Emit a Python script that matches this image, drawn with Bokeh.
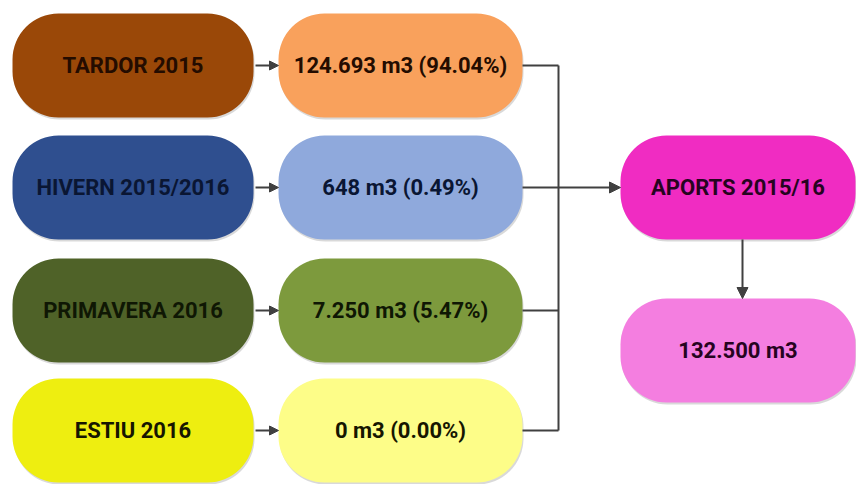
from bokeh.plotting import figure
from bokeh.models import Range1d, Arrow, NormalHead, ColumnDataSource
from bokeh.core.properties import value
from bokeh.embed import file_html
from bokeh.resources import INLINE

# ---- data ----
seasons = ["TARDOR 2015", "HIVERN 2015/2016", "PRIMAVERA 2016", "ESTIU 2016"]
volumes_m3 = [124693, 648, 7250, 0]
percentages = [94.04, 0.49, 5.47, 0.00]
total_label = "APORTS 2015/16"
total_m3 = 132500

def fmt_m3(v):
    return f"{v:,}".replace(",", ".") + " m3"

value_labels = [f"{fmt_m3(v)} ({p:.2f}%)" for v, p in zip(volumes_m3, percentages)]

# ---- style / layout ----
season_colors = ["#9a4808", "#2f4f8f", "#4f6228", "#eeee10"]
value_colors = ["#f9a15c", "#8fa9dc", "#7d9a3d", "#fdfd88"]
text_colors = ["#240c00", "#0a1633", "#0f1704", "#161600"]
row_y = [65, 187, 310, 430]
half_h = 52
FONT = "Roboto"
FS = "22px"

p = figure(width=856, height=484, output_backend="svg", toolbar_location=None,
           x_range=Range1d(0, 856), y_range=Range1d(484, 0), min_border=0,
           outline_line_color=None, background_fill_color="white")
p.axis.visible = False
p.grid.visible = False

def box(x0, x1, yc, color):
    p.quad(left=x0 + 1, right=x1 + 1, top=yc - half_h + 2, bottom=yc + half_h + 2,
           fill_color="#808080", fill_alpha=0.3, line_color=None, border_radius=46)
    p.quad(left=x0, right=x1, top=yc - half_h, bottom=yc + half_h,
           fill_color=color, line_color=None, border_radius=46)

LX0, LX1 = 12, 253
MX0, MX1 = 278, 522
RX0, RX1 = 620, 855
for i in range(4):
    box(LX0, LX1, row_y[i], season_colors[i])
    box(MX0, MX1, row_y[i], value_colors[i])

box(RX0, RX1, 187, "#f02cc2")
box(RX0, RX1, 350, "#f47ee0")

src_l = ColumnDataSource(dict(x=[(LX0 + LX1) / 2] * 4, y=row_y, t=seasons, c=text_colors))
src_m = ColumnDataSource(dict(x=[(MX0 + MX1) / 2] * 4, y=row_y, t=value_labels, c=text_colors))
for s in (src_l, src_m):
    p.text(x="x", y="y", text="t", source=s, text_color="c", text_font=value(FONT),
           text_font_size=FS, text_font_style="bold", text_align="center",
           text_baseline="middle")

p.text(x=[(RX0 + RX1) / 2, (RX0 + RX1) / 2], y=[187, 350],
       text=[total_label, fmt_m3(total_m3)], text_color=["#26041f", "#26041f"],
       text_font=value(FONT), text_font_size=FS, text_font_style="bold",
       text_align="center", text_baseline="middle")

LC = "#404040"
# arrows from season to value
for y in row_y:
    p.add_layout(Arrow(end=NormalHead(size=9, fill_color=LC, line_color=LC),
                       x_start=LX1 + 2, y_start=y, x_end=MX0, y_end=y,
                       line_color=LC, line_width=2))

# connector
CX = 558
p.multi_line(xs=[[MX1, CX], [MX1, CX], [MX1, CX], [CX, CX]],
             ys=[[row_y[0]] * 2, [row_y[2]] * 2, [row_y[3]] * 2, [row_y[0], row_y[3]]],
             line_color=LC, line_width=2)
p.add_layout(Arrow(end=NormalHead(size=11, fill_color=LC, line_color=LC),
                   x_start=MX1, y_start=row_y[1], x_end=RX0, y_end=row_y[1],
                   line_color=LC, line_width=2))
p.add_layout(Arrow(end=NormalHead(size=11, fill_color=LC, line_color=LC),
                   x_start=742, y_start=187 + half_h, x_end=742, y_end=350 - half_h,
                   line_color=LC, line_width=2))

open("out.html", "w").write(file_html(p, INLINE))
